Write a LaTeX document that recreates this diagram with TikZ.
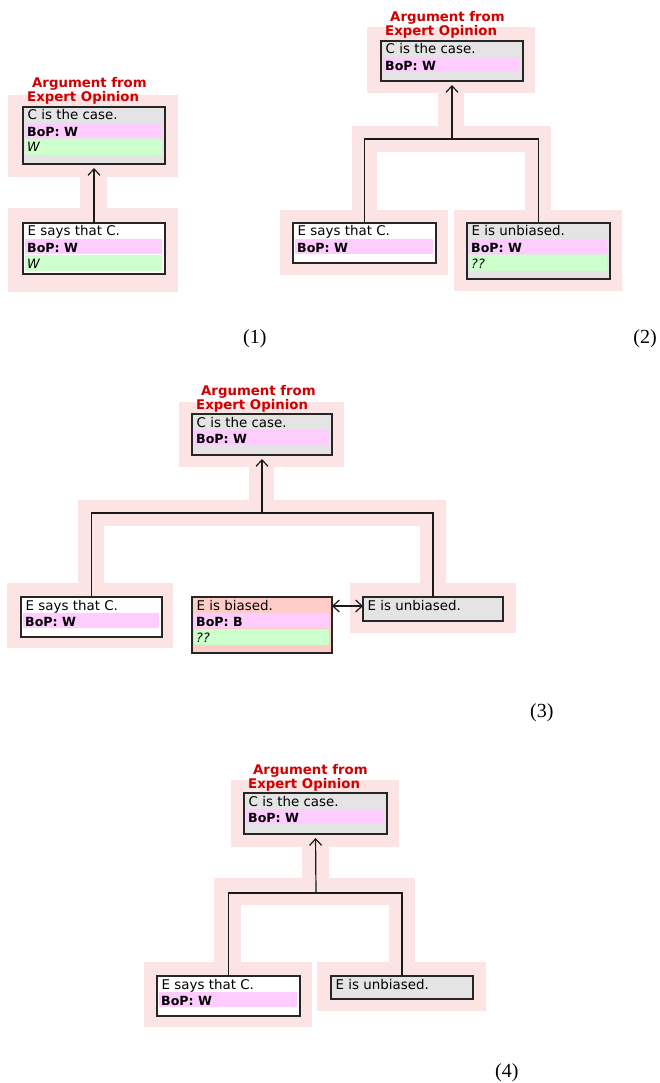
\documentclass[tikz,border=0pt]{standalone}
\usepackage{fontspec}
\setmainfont{DejaVu Sans}
\newfontfamily\numfont{Liberation Serif}
\usetikzlibrary{arrows.meta}
\definecolor{halo}{RGB}{252,228,228}
\definecolor{magc}{RGB}{255,204,255}
\definecolor{grnc}{RGB}{204,255,204}
\definecolor{greyc}{RGB}{228,228,228}
\definecolor{salmc}{RGB}{255,204,200}
\definecolor{ttlred}{RGB}{208,0,0}
\tikzset{
  boxsty/.style={draw=black!85, line width=1.3pt, inner sep=0pt, outer sep=0pt},
  txt/.style={inner sep=0pt, font=\fontsize{13.4}{15}\selectfont, text=black},
  btxt/.style={txt, font=\fontsize{12.6}{15}\selectfont\bfseries},
  itxt/.style={txt, font=\fontsize{12.8}{15}\selectfont\itshape},
  ttl/.style={inner sep=0pt, font=\fontsize{13.3}{15}\selectfont\bfseries, text=ttlred},
  conn/.style={draw=black!90, line width=1.2pt},
  tip/.style={-{Straight Barb[length=6.5pt,width=12pt]}},
  dtip/.style={{Straight Barb[length=6.5pt,width=12pt]}-{Straight Barb[length=6.5pt,width=12pt]}},
  lbl/.style={inner sep=0pt, font=\numfont\fontsize{20}{22}\selectfont},
}
\newcommand{\abox}[6]{\node[boxsty, fill=#6, minimum width=#4pt, minimum height=#5pt, anchor=north west] (#1) at (#2,#3) {};}
\newcommand{\rowA}[2]{\node[txt, anchor=base west] (#1-a) at ([xshift=4.5pt,yshift=-13pt]#1.north west) {#2};}
\newcommand{\rowB}[2]{\fill[magc] ([xshift=2pt,yshift=-16pt]#1.north west) rectangle ([xshift=-3.5pt,yshift=-31pt]#1.north east);
  \node[btxt, anchor=base west] (#1-b) at ([xshift=4pt,yshift=-29.5pt]#1.north west) {#2};}
\newcommand{\rowC}[2]{\fill[grnc] ([xshift=2pt,yshift=-32pt]#1.north west) rectangle ([xshift=-3.5pt,yshift=-48pt]#1.north east);
  \node[itxt, anchor=base west] (#1-c) at ([xshift=4pt,yshift=-45pt]#1.north west) {#2};}
\newcommand{\atitle}[1]{\node[ttl, anchor=base west] (#1-h1) at ([xshift=9pt,yshift=19pt]#1.north west) {Argument from};
  \node[ttl, anchor=base west] (#1-h2) at ([xshift=4pt,yshift=5pt]#1.north west) {Expert Opinion};}
\begin{document}
\begin{tikzpicture}[x=1pt,y=-1pt]
\useasboundingbox (0,0) rectangle (659,1083);
% ---------- halos ----------
% panel 1
\fill[halo] (8,95) rectangle (178,177);
\fill[halo] (80,177) rectangle (107,208);
\fill[halo] (8,208) rectangle (178,292);
% panel 2
\fill[halo] (367,27) rectangle (535,93);
\fill[halo] (438,93) rectangle (464,126);
\fill[halo] (352,126) rectangle (551,152);
\fill[halo] (352,152) rectangle (377,210);
\fill[halo] (525,152) rectangle (551,210);
\fill[halo] (280,210) rectangle (448,275);
\fill[halo] (454,210) rectangle (622,291);
% panel 3
\fill[halo] (179,402) rectangle (344,467);
\fill[halo] (249,467) rectangle (274,500);
\fill[halo] (78,500) rectangle (446,526);
\fill[halo] (78,526) rectangle (104,583);
\fill[halo] (420,526) rectangle (446,583);
\fill[halo] (7,583) rectangle (173,648);
\fill[halo] (350,583) rectangle (516,633);
% panel 4
\fill[halo] (231,780) rectangle (399,847);
\fill[halo] (302,847) rectangle (329,878);
\fill[halo] (214,878) rectangle (415,905);
\fill[halo] (214,905) rectangle (241,962);
\fill[halo] (389,905) rectangle (415,962);
\fill[halo] (144,962) rectangle (312,1027);
\fill[halo] (317,962) rectangle (486,1011);

% ---------- panel 1 ----------
\abox{p1c}{23}{107}{142}{57}{greyc}
\rowA{p1c}{C is the case.}
\rowB{p1c}{BoP: W}
\rowC{p1c}{W}
\atitle{p1c}
\abox{p1e}{23}{223}{142}{51}{white}
\rowA{p1e}{E says that C.}
\rowB{p1e}{BoP: W}
\rowC{p1e}{W}
\draw[conn, tip, shorten >=4pt] (p1e.north) -- (p1c.south);
\node[lbl, anchor=base west] (l1) at (243,343) {(1)};

% ---------- panel 2 ----------
\abox{p2c}{381}{41}{142}{40}{greyc}
\rowA{p2c}{C is the case.}
\rowB{p2c}{BoP: W}
\atitle{p2c}
\abox{p2l}{293}{223}{143}{40}{white}
\rowA{p2l}{E says that C.}
\rowB{p2l}{BoP: W}
\abox{p2r}{467}{223}{143}{56}{greyc}
\rowA{p2r}{E is unbiased.}
\rowB{p2r}{BoP: W}
\rowC{p2r}{??}
\coordinate (p2j) at (452,139);
\draw[conn] (p2l.north) |- (p2j) -| (p2r.north);
\draw[conn, tip, shorten >=4pt] (p2j) -- (p2c.south);
\node[lbl, anchor=base east] (l2) at (657,343) {(2)};

% ---------- panel 3 ----------
\abox{p3c}{192}{414}{140}{41}{greyc}
\rowA{p3c}{C is the case.}
\rowB{p3c}{BoP: W}
\atitle{p3c}
\abox{p3l}{21}{597}{141}{40}{white}
\rowA{p3l}{E says that C.}
\rowB{p3l}{BoP: W}
\abox{p3m}{192}{597}{140}{56}{salmc}
\rowA{p3m}{E is biased.}
\rowB{p3m}{BoP: B}
\rowC{p3m}{??}
\abox{p3u}{363}{597}{140}{24}{greyc}
\rowA{p3u}{E is unbiased.}
\coordinate (p3j) at (262,513);
\draw[conn] (p3l.north) |- (p3j) -| (p3u.north);
\draw[conn, tip, shorten >=4pt] (p3j) -- (p3c.south);
\draw[conn, dtip] ([yshift=3pt]p3m.east |- p3u.west) -- ([yshift=3pt]p3u.west);
\node[lbl, anchor=base west] (l3) at (530,717) {(3)};

% ---------- panel 4 ----------
\abox{p4c}{244}{793}{143}{41}{greyc}
\rowA{p4c}{C is the case.}
\rowB{p4c}{BoP: W}
\atitle{p4c}
\abox{p4l}{157}{976}{143}{40}{white}
\rowA{p4l}{E says that C.}
\rowB{p4l}{BoP: W}
\abox{p4r}{331}{976}{142}{23}{greyc}
\rowA{p4r}{E is unbiased.}
\coordinate (p4j) at (316,893);
\draw[conn] (p4l.north) |- (p4j) -| (p4r.north);
\draw[conn, tip, shorten >=4pt] (p4j) -- (p4c.south);
\node[lbl, anchor=base west] (l4) at (495,1077) {(4)};
\end{tikzpicture}
\end{document}
